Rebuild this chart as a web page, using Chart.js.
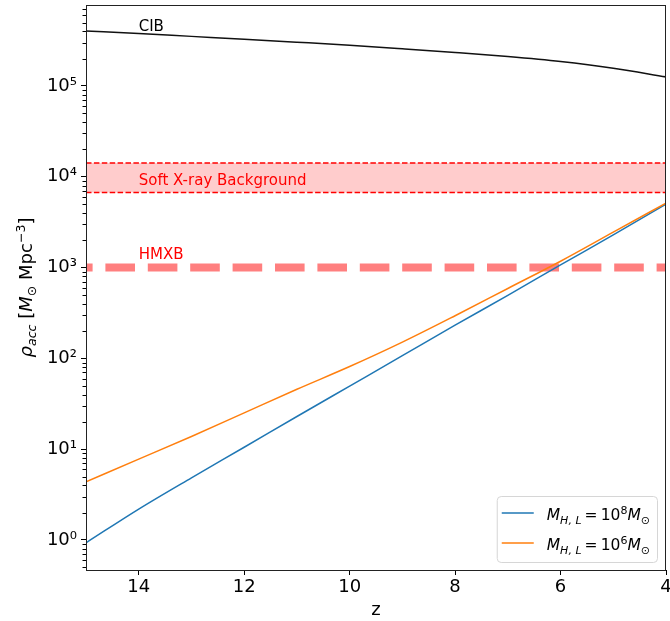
<!DOCTYPE html>
<html>
<head>
<meta charset="utf-8">
<script src="https://cdn.jsdelivr.net/npm/chart.js@4"></script>
<style>
html, body { margin: 0; padding: 0; background: #fff; }
</style>
</head>
<body>
<canvas id="myChart" width="670" height="621"></canvas>
<script>
// redshift grid and accretion densities
var zGrid = [15, 14, 13, 12, 11, 10, 9, 8, 7, 6, 5, 4];
var rhoM8 = [0.93, 2.19, 4.84, 10.5, 22.9, 49.5, 107, 232, 495, 1070, 2290, 5010];
var rhoM6 = [4.37, 7.76, 13.8, 25.1, 45.7, 81.3, 151, 295, 589, 1175, 2455, 5130];
var rhoCIB = [4.04e5, 3.78e5, 3.52e5, 3.28e5, 3.04e5, 2.81e5, 2.57e5, 2.34e5, 2.11e5, 1.86e5, 1.57e5, 1.26e5];

// horizontal limits
var bandZ = [15, 4];
var sxbLow = 6.7e3;
var sxbHigh = 1.42e4;
var hmxbLevel = 1e3;

// axis ticks
var xTickVals = [14, 12, 10, 8, 6, 4];
var yTickExp = [0, 1, 2, 3, 4, 5];

// text labels inside the plot (data coordinates)
var noteText = ['CIB', 'Soft X-ray Background', 'HMXB'];
var noteZ = [14, 14, 14];
var noteRho = [4.0e5, 8.1e3, 1.23e3];
var noteColor = ['#000000', '#ff0000', '#ff0000'];

function pts(xs, ys) {
    return xs.map(function (x, i) { return { x: x, y: ys[i] }; });
}
function flat(v) {
    return bandZ.map(function (z) { return { x: z, y: v }; });
}

var SUP = { '0': '\u2070', '1': '\u00b9', '2': '\u00b2', '3': '\u00b3', '4': '\u2074', '5': '\u2075', '6': '\u2076', '7': '\u2077', '8': '\u2078', '9': '\u2079', '-': '\u207b' };
function supStr(s) {
    return String(s).split('').map(function (c) { return SUP[c] || c; }).join('');
}

var FONT = 'DejaVu Sans';

// draw a list of text pieces with their own font and vertical shift
function richWidth(ctx, parts) {
    var w = 0;
    parts.forEach(function (p) { ctx.font = p.f; w += ctx.measureText(p.t).width; });
    return w;
}
function drawRich(ctx, parts, x, y, color) {
    ctx.fillStyle = color;
    ctx.textBaseline = 'alphabetic';
    ctx.textAlign = 'left';
    parts.forEach(function (p) {
        ctx.font = p.f;
        ctx.fillText(p.t, x, y + (p.dy || 0));
        x += ctx.measureText(p.t).width;
    });
}

function legendParts(exp) {
    var big = 15.5, small = 11;
    return [
        { t: 'M', f: 'italic ' + big + 'px ' + FONT },
        { t: 'H, L', f: 'italic ' + small + 'px ' + FONT, dy: 3.5 },
        { t: '\u2009=\u200910', f: big + 'px ' + FONT },
        { t: String(exp), f: small + 'px ' + FONT, dy: -6.5 },
        { t: 'M', f: 'italic ' + big + 'px ' + FONT },
        { t: '\u2299', f: small + 'px ' + FONT, dy: 3.5 }
    ];
}

var extras = {
    id: 'extras',
    afterDatasetsDraw: function (chart) {
        var ctx = chart.ctx, a = chart.chartArea;
        var xs = chart.scales.x, ys = chart.scales.y;
        ctx.save();

        // notes
        ctx.font = '15px ' + FONT;
        ctx.textAlign = 'left';
        ctx.textBaseline = 'alphabetic';
        noteText.forEach(function (t, i) {
            ctx.fillStyle = noteColor[i];
            ctx.fillText(t, xs.getPixelForValue(noteZ[i]), ys.getPixelForValue(noteRho[i]));
        });

        // minor ticks on the log axis
        ctx.strokeStyle = '#000';
        ctx.lineWidth = 1;
        for (var e = -1; e <= 5; e++) {
            for (var m = 2; m <= 9; m++) {
                var v = m * Math.pow(10, e);
                if (v < ys.min || v > ys.max) continue;
                var py = Math.round(ys.getPixelForValue(v)) + 0.5;
                ctx.beginPath();
                ctx.moveTo(a.left - 3.5, py);
                ctx.lineTo(a.left, py);
                ctx.stroke();
            }
        }

        // frame
        ctx.lineWidth = 1;
        ctx.strokeStyle = '#222';
        ctx.strokeRect(Math.round(a.left) + 0.5, Math.round(a.top) + 0.5,
            Math.round(a.right - a.left) - 1, Math.round(a.bottom - a.top));

        // legend
        var entries = [
            { color: chart.data.datasets[0].borderColor, parts: legendParts(8) },
            { color: chart.data.datasets[1].borderColor, parts: legendParts(6) }
        ];
        var tw = 0;
        entries.forEach(function (en) { tw = Math.max(tw, richWidth(ctx, en.parts)); });
        var bw = 5 + 32 + 13 + tw + 7, bh = 66;
        var bx = a.right - 9 - bw, by = a.bottom - 8 - bh;
        ctx.beginPath();
        ctx.roundRect(bx + 0.5, by + 0.5, bw, bh, 4);
        ctx.fillStyle = 'rgba(255,255,255,0.8)';
        ctx.fill();
        ctx.strokeStyle = '#d6d6d6';
        ctx.lineWidth = 1;
        ctx.stroke();
        entries.forEach(function (en, i) {
            var hy = by + 17 + i * 30;
            ctx.beginPath();
            ctx.moveTo(bx + 5, hy);
            ctx.lineTo(bx + 37, hy);
            ctx.strokeStyle = en.color;
            ctx.lineWidth = 1.5;
            ctx.stroke();
            drawRich(ctx, en.parts, bx + 50, hy + 7, '#000');
        });

        // y axis title
        var yt = [
            { t: '\u03c1', f: 'italic 18px ' + FONT },
            { t: 'acc', f: 'italic 12.6px ' + FONT, dy: 4 },
            { t: ' [', f: '18px ' + FONT },
            { t: 'M', f: 'italic 18px ' + FONT },
            { t: '\u2299', f: '12.6px ' + FONT, dy: 4 },
            { t: ' Mpc', f: '18px ' + FONT },
            { t: '\u22123', f: '12.6px ' + FONT, dy: -7.5 },
            { t: ']', f: '18px ' + FONT }
        ];
        var w = richWidth(ctx, yt);
        ctx.translate(32, (a.top + a.bottom) / 2);
        ctx.rotate(-Math.PI / 2);
        drawRich(ctx, yt, -w / 2, 0, '#000');

        ctx.restore();
    }
};

var lineBase = { pointRadius: 0, borderWidth: 1.5, fill: false, cubicInterpolationMode: 'monotone' };

new Chart(document.getElementById('myChart').getContext('2d'), {
    type: 'line',
    data: {
        datasets: [
            Object.assign({ label: 'M8', data: pts(zGrid, rhoM8), borderColor: '#1f77b4', order: 1 }, lineBase),
            Object.assign({ label: 'M6', data: pts(zGrid, rhoM6), borderColor: '#ff7f0e', order: 0 }, lineBase),
            Object.assign({ label: 'CIB', data: pts(zGrid, rhoCIB), borderColor: '#111111', order: 2 }, lineBase),
            { label: 'SXB low', data: flat(sxbLow), borderColor: '#ff0000', borderWidth: 1.5,
              borderDash: [5.5, 2.4], pointRadius: 0, fill: false, order: 3 },
            { label: 'SXB high', data: flat(sxbHigh), borderColor: '#ff0000', borderWidth: 1.5,
              borderDash: [5.5, 2.4], pointRadius: 0, fill: '-1', backgroundColor: 'rgba(255,0,0,0.2)', order: 3 },
            { label: 'HMXB', data: flat(hmxbLevel), borderColor: 'rgba(255,0,0,0.5)', borderWidth: 8,
              borderDash: [29.6, 12.8], borderDashOffset: 23, pointRadius: 0, fill: false, order: 5 }
        ]
    },
    options: {
        responsive: false,
        animation: false,
        devicePixelRatio: 1,
        layout: { autoPadding: false, padding: { top: 5, right: 4, left: 0, bottom: 0 } },
        plugins: { legend: { display: false }, tooltip: { enabled: false } },
        scales: {
            x: {
                type: 'linear',
                reverse: true,
                min: 4,
                max: 15,
                afterBuildTicks: function (s) { s.ticks = xTickVals.map(function (v) { return { value: v }; }); },
                afterFit: function (s) { s.height = 51; s.paddingLeft = 0; s.paddingRight = 0; },
                grid: { drawOnChartArea: false, tickLength: 5, tickColor: '#000', lineWidth: 1 },
                border: { display: false },
                ticks: { color: '#000', font: { family: FONT, size: 18 }, padding: 2, maxRotation: 0, autoSkip: false },
                title: { display: true, text: 'z', color: '#000', font: { family: FONT, size: 18 }, padding: { top: 0, bottom: 0 } }
            },
            y: {
                type: 'logarithmic',
                min: 0.467,
                max: 7.8e5,
                afterBuildTicks: function (s) { s.ticks = yTickExp.map(function (e) { return { value: Math.pow(10, e) }; }); },
                afterFit: function (s) { s.width = 86; s.paddingTop = 0; s.paddingBottom = 0; },
                grid: { drawOnChartArea: false, tickLength: 5, tickColor: '#000', lineWidth: 1 },
                border: { display: false },
                ticks: {
                    color: '#000', font: { family: FONT, size: 18 }, padding: 4, autoSkip: false,
                    callback: function (v) { return '10' + supStr(Math.round(Math.log10(v))); }
                }
            }
        }
    },
    plugins: [extras]
});
</script>
</body>
</html>
